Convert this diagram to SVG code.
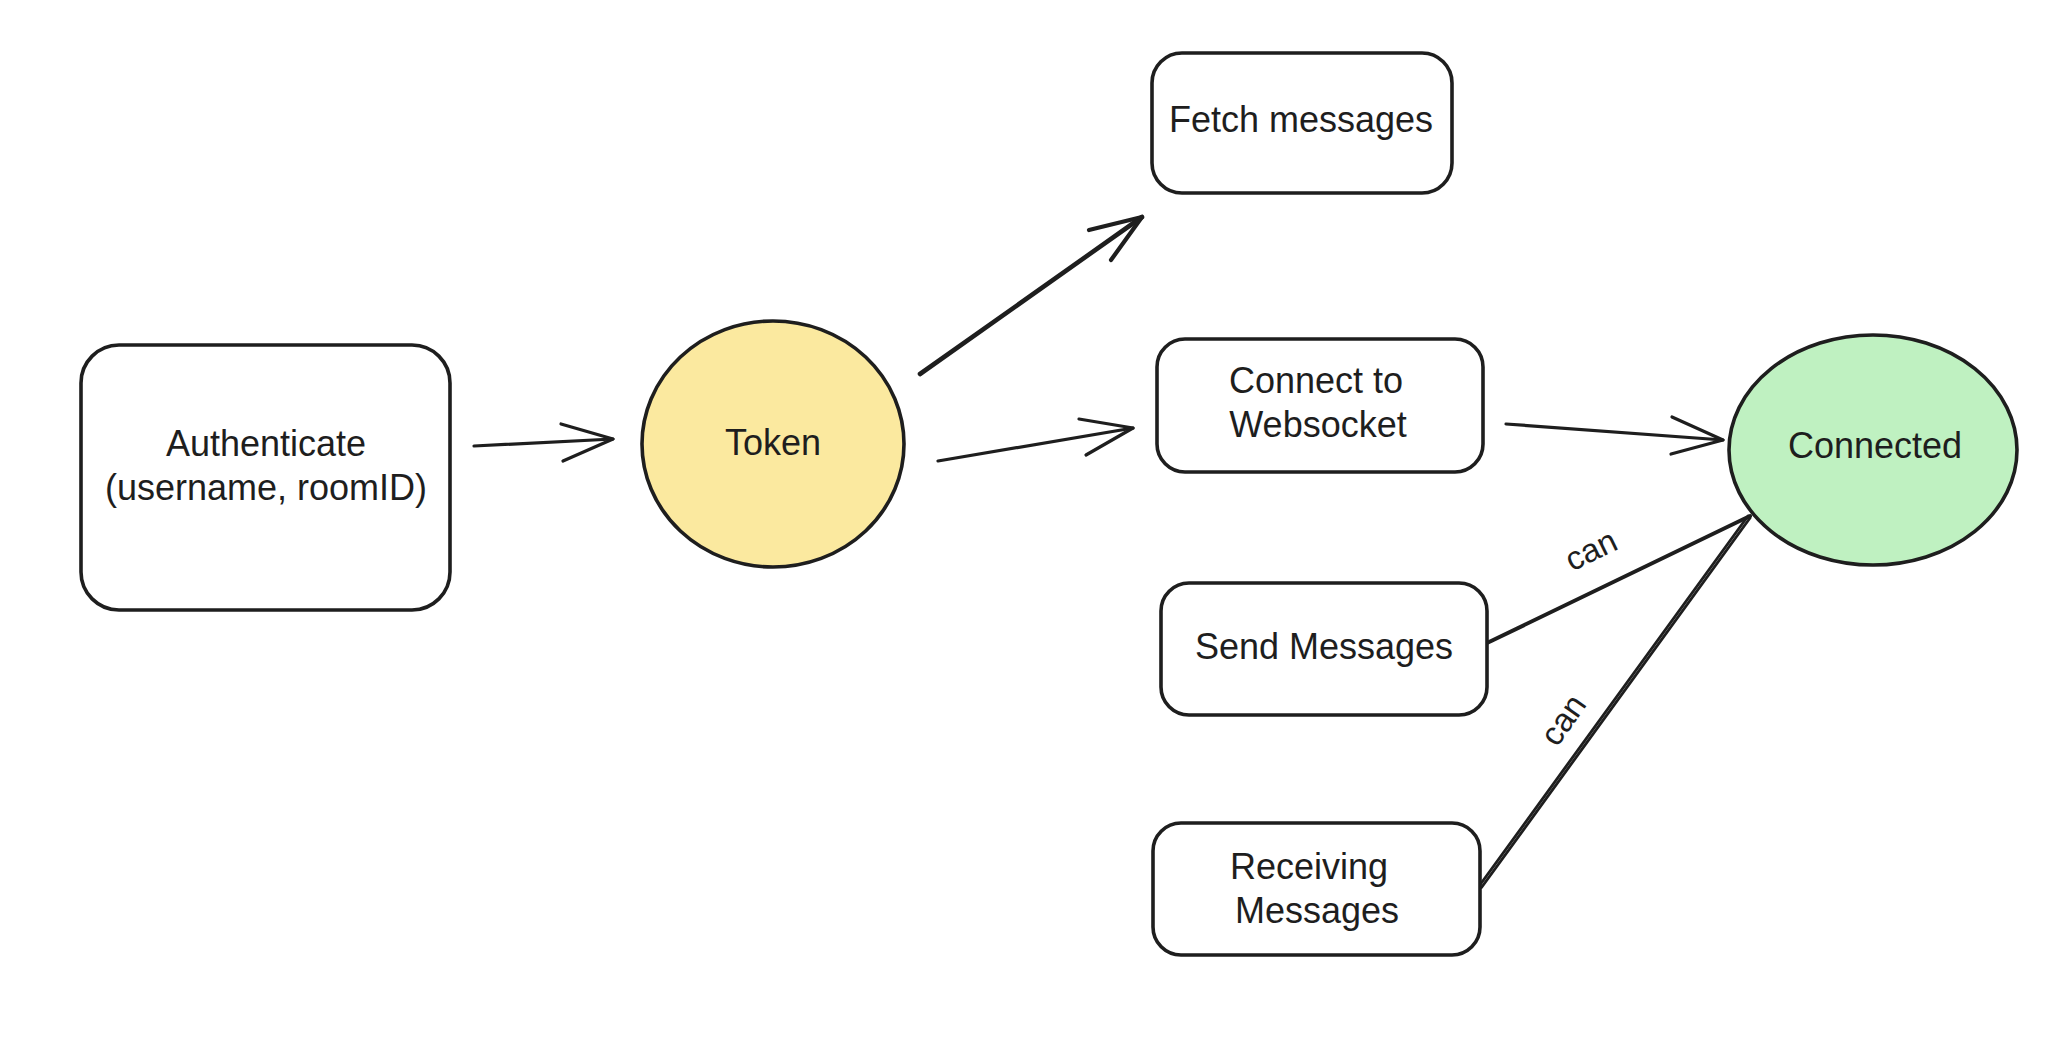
<svg xmlns="http://www.w3.org/2000/svg" width="2058" height="1044" viewBox="0 0 2058 1044">
  <style>
    .box { fill: #ffffff; stroke: #1e1e1e; stroke-width: 3.6; }
    .lbl { font-family: "Liberation Sans", Arial, sans-serif; font-size: 36px; fill: #1e1e1e; text-anchor: middle; }
    .edge { fill: none; stroke: #1e1e1e; stroke-width: 3.2; stroke-linecap: round; stroke-linejoin: round; }
    .elab { font-family: "Liberation Sans", Arial, sans-serif; font-size: 33px; fill: #1e1e1e; text-anchor: middle; }
  </style>
  <rect width="2058" height="1044" fill="#ffffff"/>

  <g id="connectors">
    <g id="e-auth-token">
      <path class="edge" d="M474 446 L613 439"/>
      <path class="edge" d="M561 424 L613 439 L563 461"/>
    </g>
    <g id="e-token-fetch">
      <path class="edge" style="stroke-width:4.6" d="M920 374 L1142 217"/>
      <path class="edge" style="stroke-width:4.2" d="M1089 230 L1142 217 L1111 260"/>
    </g>
    <g id="e-token-connect">
      <path class="edge" d="M938 461 L1133 428"/>
      <path class="edge" d="M1079 419 L1133 428 L1086 455"/>
    </g>
    <g id="e-connect-connected">
      <path class="edge" d="M1506 424 L1723 440"/>
      <path class="edge" d="M1672 417 L1723 440 L1671 454"/>
    </g>
    <g id="e-send-connected">
      <path class="edge" style="stroke-width:4" d="M1487 643 L1750 516"/>
      <g transform="translate(1592 552) rotate(-26)">
        <text class="elab" x="0" y="9">can</text>
      </g>
    </g>
    <g id="e-receiving-connected">
      <path class="edge" style="stroke-width:2.8" d="M1479.5 885.5 L1748 516"/>
      <path class="edge" style="stroke-width:2.8" d="M1481.5 887.5 L1750 518"/>
      <g transform="translate(1565 721) rotate(-55)">
        <text class="elab" x="0" y="9">can</text>
      </g>
    </g>
  </g>

  <g id="n-authenticate">
    <rect class="box" x="81" y="345" width="369" height="265" rx="38" ry="38"/>
    <text class="lbl" x="266" y="456">Authenticate</text>
    <text class="lbl" x="266" y="500">(username, roomID)</text>
  </g>

  <g id="n-token">
    <ellipse cx="773" cy="444" rx="131" ry="123" fill="#fbe99f" stroke="#1e1e1e" stroke-width="3.6"/>
    <text class="lbl" x="773" y="455">Token</text>
  </g>

  <g id="n-fetch">
    <rect class="box" x="1152" y="53" width="300" height="140" rx="30" ry="30"/>
    <text class="lbl" x="1301" y="132">Fetch messages</text>
  </g>

  <g id="n-connect">
    <rect class="box" x="1157" y="339" width="326" height="133" rx="28" ry="28"/>
    <text class="lbl" x="1316" y="393">Connect to</text>
    <text class="lbl" x="1318" y="437">Websocket</text>
  </g>

  <g id="n-connected">
    <ellipse cx="1873" cy="450" rx="144" ry="115" fill="#bff1c1" stroke="#1e1e1e" stroke-width="3.6"/>
    <text class="lbl" x="1875" y="458">Connected</text>
  </g>

  <g id="n-send">
    <rect class="box" x="1161" y="583" width="326" height="132" rx="28" ry="28"/>
    <text class="lbl" x="1324" y="659">Send Messages</text>
  </g>

  <g id="n-receiving">
    <rect class="box" x="1153" y="823" width="327" height="132" rx="28" ry="28"/>
    <text class="lbl" x="1309" y="879">Receiving</text>
    <text class="lbl" x="1317" y="923">Messages</text>
  </g>
</svg>
